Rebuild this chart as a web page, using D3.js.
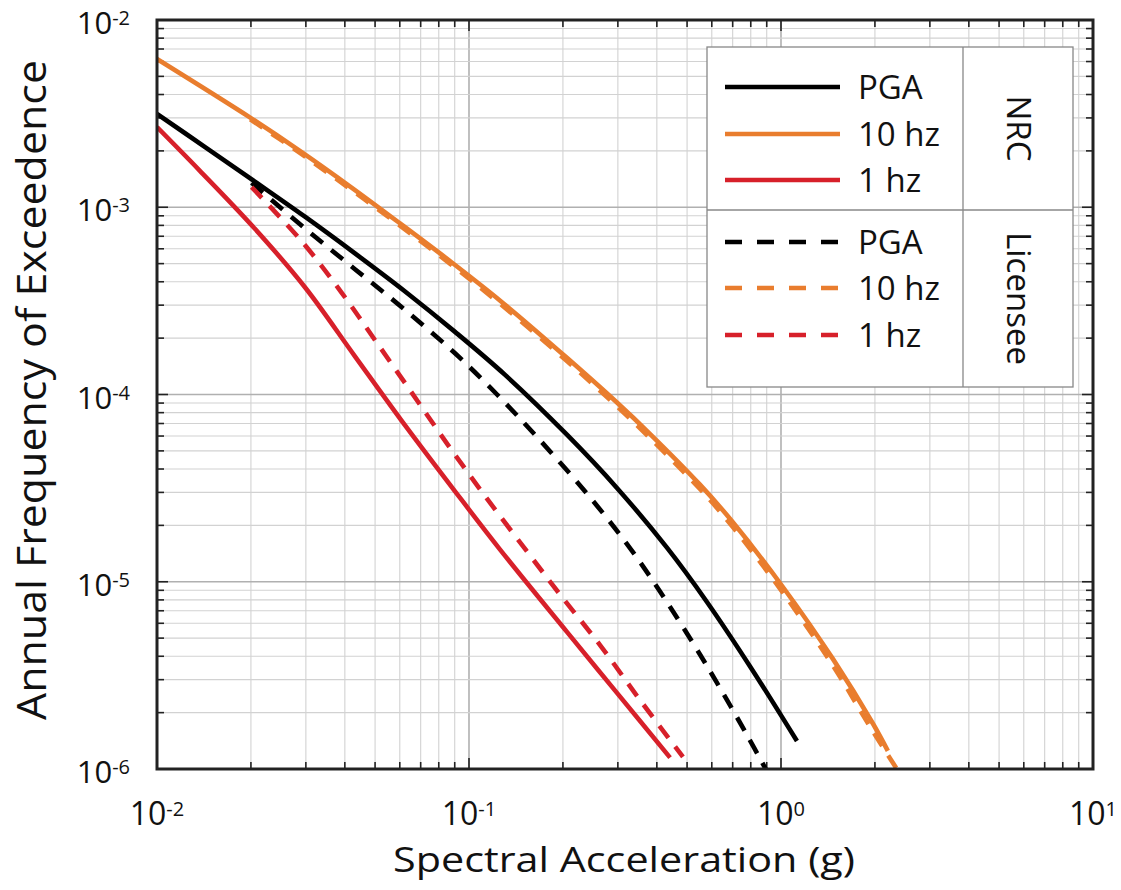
<!DOCTYPE html>
<html>
<head>
<meta charset="utf-8">
<script src="https://cdn.jsdelivr.net/npm/d3@7/dist/d3.min.js"></script>
<style>
  body { margin: 0; background: #fff; }
  svg { display: block; }
  text { font-family: "Open Sans", "Noto Sans", sans-serif; fill: #111; }
</style>
</head>
<body>
<svg id="chart" width="1121" height="890"></svg>
<script>
// hazard curves, [spectral acceleration (g), annual frequency of exceedence]
const pgaNRC = [[0.01,3.15e-3],[0.0143,2.09e-3],[0.0206,1.37e-3],[0.0298,8.9e-4],[0.0431,5.67e-4],[0.0624,3.55e-4],[0.0902,2.16e-4],[0.130,1.28e-4],[0.206,6.1e-5],[0.298,3.17e-5],[0.431,1.52e-5],[0.579,7.8e-6],[0.796,3.53e-6],[1.125,1.41e-6]];
const hz10NRC = [[0.01,6.19e-3],[0.0199,3.01e-3],[0.0287,2.0e-3],[0.0416,1.29e-3],[0.0601,8.2e-4],[0.0869,5.16e-4],[0.1256,3.18e-4],[0.206,1.57e-4],[0.298,9.06e-5],[0.380,6.17e-5],[0.550,3.3e-5],[0.701,2.08e-5],[1.01,9.46e-6],[1.47,3.85e-6],[1.97,1.75e-6],[2.20,1.25e-6]];
const hz1NRC = [[0.01,2.68e-3],[0.0137,1.57e-3],[0.0206,7.67e-4],[0.0298,3.74e-4],[0.0431,1.60e-4],[0.0624,6.84e-5],[0.0902,3.04e-5],[0.1256,1.49e-5],[0.206,5.4e-6],[0.298,2.55e-6],[0.441,1.15e-6]];
const pgaLic = [[0.0201,1.35e-3],[0.0298,7.71e-4],[0.0431,4.67e-4],[0.0624,2.83e-4],[0.0902,1.66e-4],[0.123,1.0e-4],[0.169,5.69e-5],[0.239,2.95e-5],[0.321,1.59e-5],[0.409,8.9e-6],[0.522,4.71e-6],[0.623,2.89e-6],[0.778,1.52e-6],[0.902,9.7e-7]];
const hz10Lic = [[0.0199,2.95e-3],[0.0287,1.95e-3],[0.0416,1.253e-3],[0.0601,7.98e-4],[0.0869,5.0e-4],[0.1256,3.06e-4],[0.206,1.51e-4],[0.298,8.65e-5],[0.380,5.86e-5],[0.550,3.13e-5],[0.701,1.96e-5],[1.01,8.83e-6],[1.47,3.55e-6],[1.97,1.59e-6],[2.46,8.9e-7]];
const hz1Lic = [[0.0201,1.28e-3],[0.0292,6.53e-4],[0.0392,3.47e-4],[0.0500,1.95e-4],[0.0656,1.02e-4],[0.0857,5.37e-5],[0.114,2.79e-5],[0.153,1.46e-5],[0.196,8.53e-6],[0.263,4.59e-6],[0.353,2.34e-6],[0.485,1.16e-6]];

const xExponents = [-2, -1, 0, 1];
const yExponents = [-2, -3, -4, -5, -6];
const legendLabels = ["PGA", "10 hz", "1 hz"];
const legendGroups = ["NRC", "Licensee"];

const BLACK = "#000", ORANGE = "#e97d2e", RED = "#d7202a";

const series = [
  { data: pgaNRC, color: BLACK, dashed: false },
  { data: hz10NRC, color: ORANGE, dashed: false },
  { data: hz1NRC, color: RED, dashed: false },
  { data: pgaLic, color: BLACK, dashed: true },
  { data: hz10Lic, color: ORANGE, dashed: true },
  { data: hz1Lic, color: RED, dashed: true }
];

const W = 1121, H = 890;
const margin = { top: 20, right: 28, bottom: 121, left: 157 };
const iw = W - margin.left - margin.right;
const ih = H - margin.top - margin.bottom;

const svg = d3.select("#chart");
const g = svg.append("g").attr("transform", `translate(${margin.left},${margin.top})`);

const x = d3.scaleLog().domain([1e-2, 1e1]).range([0, iw]);
const y = d3.scaleLog().domain([1e-6, 1e-2]).range([ih, 0]);

const isMajor = v => Math.abs(Math.log10(v) - Math.round(Math.log10(v))) < 1e-6;
const xt = x.ticks(), yt = y.ticks();

// grid
g.append("g").selectAll("line").data(xt).join("line")
  .attr("x1", d => x(d)).attr("x2", d => x(d)).attr("y1", 0).attr("y2", ih)
  .attr("stroke", d => isMajor(d) ? "#b0b0b0" : "#d2d2d2")
  .attr("stroke-width", d => isMajor(d) ? 1.6 : 1.1);
g.append("g").selectAll("line").data(yt).join("line")
  .attr("y1", d => y(d)).attr("y2", d => y(d)).attr("x1", 0).attr("x2", iw)
  .attr("stroke", d => isMajor(d) ? "#b0b0b0" : "#d2d2d2")
  .attr("stroke-width", d => isMajor(d) ? 1.6 : 1.1);

// inward ticks on all four sides
const tl = d => isMajor(d) ? 11 : 7;
const ticks = g.append("g").attr("stroke", "#222").attr("stroke-width", 1.6);
ticks.selectAll(".tb").data(xt).join("line").attr("class", "tb")
  .attr("x1", d => x(d)).attr("x2", d => x(d)).attr("y1", ih).attr("y2", d => ih - tl(d));
ticks.selectAll(".tt").data(xt).join("line").attr("class", "tt")
  .attr("x1", d => x(d)).attr("x2", d => x(d)).attr("y1", 0).attr("y2", d => tl(d));
ticks.selectAll(".tl").data(yt).join("line").attr("class", "tl")
  .attr("y1", d => y(d)).attr("y2", d => y(d)).attr("x1", 0).attr("x2", d => tl(d));
ticks.selectAll(".tr").data(yt).join("line").attr("class", "tr")
  .attr("y1", d => y(d)).attr("y2", d => y(d)).attr("x1", iw).attr("x2", d => iw - tl(d));

// curves
const line = d3.line().x(d => x(d[0])).y(d => y(d[1])).curve(d3.curveCatmullRom.alpha(0.5));
g.append("defs").append("clipPath").attr("id", "clip")
  .append("rect").attr("width", iw).attr("height", ih);
const curves = g.append("g").attr("clip-path", "url(#clip)");
series.forEach(s => {
  curves.append("path")
    .attr("d", line(s.data))
    .attr("fill", "none")
    .attr("stroke", s.color)
    .attr("stroke-width", 4.6)
    .attr("stroke-dasharray", s.dashed ? "15,11" : null);
});

// frame
g.append("rect").attr("width", iw).attr("height", ih)
  .attr("fill", "none").attr("stroke", "#222").attr("stroke-width", 3);

// tick labels
function powLabel(sel, e) {
  sel.append("tspan").text("10");
  sel.append("tspan").attr("dy", "-0.45em").attr("font-size", "20px").text(e);
}
g.append("g").selectAll("text").data(xExponents).join("text")
  .attr("x", d => x(Math.pow(10, d)))
  .attr("y", ih + 56)
  .attr("text-anchor", "middle")
  .attr("font-size", 32)
  .each(function (d) { powLabel(d3.select(this), d); });
g.append("g").selectAll("text").data(yExponents).join("text")
  .attr("x", -27)
  .attr("y", d => y(Math.pow(10, d)) + 14)
  .attr("text-anchor", "end")
  .attr("font-size", 31)
  .each(function (d) { powLabel(d3.select(this), d); });

// axis titles
svg.append("text")
  .attr("x", 624).attr("y", 872)
  .attr("text-anchor", "middle")
  .attr("font-size", 35)
  .attr("textLength", 462).attr("lengthAdjust", "spacingAndGlyphs")
  .text("Spectral Acceleration (g)");
svg.append("text")
  .attr("transform", "translate(46,390) rotate(-90)")
  .attr("text-anchor", "middle")
  .attr("font-size", 40)
  .attr("textLength", 660).attr("lengthAdjust", "spacingAndGlyphs")
  .text("Annual Frequency of Exceedence");

// legend
const lg = svg.append("g");
const lx = 707, ly = 47, lw = 366, lh = 340, divX = 963, divY = 210;
lg.append("rect").attr("x", lx).attr("y", ly).attr("width", lw).attr("height", lh)
  .attr("fill", "#fff").attr("stroke", "#888").attr("stroke-width", 1.3);
lg.append("line").attr("x1", divX).attr("x2", divX).attr("y1", ly).attr("y2", ly + lh)
  .attr("stroke", "#888").attr("stroke-width", 1.3);
lg.append("line").attr("x1", lx).attr("x2", lx + lw).attr("y1", divY).attr("y2", divY)
  .attr("stroke", "#888").attr("stroke-width", 1.3);

const rowY = [87, 134, 180, 242, 288, 335];
series.forEach((s, i) => {
  const yy = rowY[i];
  lg.append("line").attr("x1", 725).attr("x2", 840).attr("y1", yy).attr("y2", yy)
    .attr("stroke", s.color).attr("stroke-width", 4.6)
    .attr("stroke-dasharray", s.dashed ? "17,15" : null);
  lg.append("text").attr("x", 858).attr("y", yy + 12)
    .attr("font-size", 33)
    .text(legendLabels[i % 3]);
});
legendGroups.forEach((t, i) => {
  const cy = i === 0 ? (ly + divY) / 2 : (divY + ly + lh) / 2;
  lg.append("text")
    .attr("transform", `translate(${(divX + lx + lw) / 2 - 11},${cy}) rotate(90)`)
    .attr("text-anchor", "middle")
    .attr("font-size", 33)
    .text(t);
});
</script>
</body>
</html>
